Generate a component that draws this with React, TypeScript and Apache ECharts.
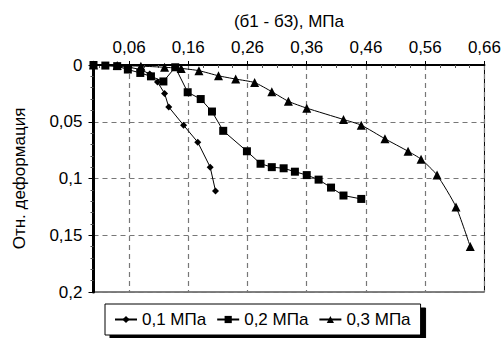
import React, { useEffect, useRef } from "react";
import * as echarts from "echarts";

const seriesNames = ["0,1 МПа", "0,2 МПа", "0,3 МПа"];

const xTicks = [0.06, 0.16, 0.26, 0.36, 0.46, 0.56, 0.66];
const xMinorTicks = [
  0.01, 0.035, 0.085, 0.11, 0.135, 0.185, 0.21, 0.235, 0.285, 0.31, 0.335,
  0.385, 0.41, 0.435, 0.485, 0.51, 0.535, 0.585, 0.61, 0.635,
];

const series01: number[][] = [
  [0, 0], [0.02, 0.0005], [0.04, 0.001], [0.06, 0.002], [0.08, 0.004],
  [0.095, 0.008], [0.108, 0.015], [0.12, 0.025], [0.127, 0.037],
  [0.152, 0.053], [0.176, 0.068], [0.197, 0.09], [0.206, 0.111],
];

const series02: number[][] = [
  [0, 0], [0.02, 0.0005], [0.04, 0.001], [0.058, 0.004], [0.079, 0.007],
  [0.097, 0.01], [0.118, 0.0145], [0.138, 0.002], [0.159, 0.024],
  [0.181, 0.03], [0.2, 0.041], [0.219, 0.058], [0.259, 0.076],
  [0.282, 0.087], [0.301, 0.09], [0.321, 0.091], [0.34, 0.094],
  [0.36, 0.097], [0.38, 0.101], [0.401, 0.108], [0.422, 0.115],
  [0.452, 0.118],
];

const series03: number[][] = [
  [0, 0], [0.04, 0.0005], [0.08, 0.001], [0.12, 0.002], [0.148, 0.003],
  [0.178, 0.005], [0.211, 0.0095], [0.24, 0.0124], [0.272, 0.0155],
  [0.301, 0.0235], [0.329, 0.032], [0.36, 0.038], [0.422, 0.048],
  [0.452, 0.053], [0.492, 0.065], [0.531, 0.076], [0.553, 0.083],
  [0.58, 0.097], [0.612, 0.125], [0.636, 0.16],
];

const fmt = (v: number) => String(+Number(v).toFixed(3)).replace(".", ",");
const FONT = "Liberation Sans, Arial, sans-serif";

export default function App() {
  const ref = useRef<HTMLDivElement>(null);
  useEffect(() => {
    if (!ref.current) return;
    const chart = echarts.init(ref.current, null, { renderer: "svg" });
    const lineStyle = { color: "#000", width: 1 };
    chart.setOption({
      animation: false,
      backgroundColor: "#fff",
      textStyle: { fontFamily: FONT, color: "#000" },
      grid: {
        left: 93.5,
        right: 16.7,
        top: 65,
        bottom: 46,
        show: true,
        borderColor: "#000",
        borderWidth: 1,
        backgroundColor: "transparent",
      },
      xAxis: [
        {
          type: "value",
          position: "top",
          min: 0,
          max: 0.66,
          name: "(б1 - б3), МПа",
          nameLocation: "middle",
          nameGap: 35,
          nameTextStyle: { fontSize: 17, color: "#000", fontFamily: FONT },
          axisLine: { show: true, lineStyle: { color: "#000", width: 2 } },
          axisTick: {
            show: true,
            customValues: xTicks,
            length: 4,
            lineStyle: { color: "#000" },
          },
          axisLabel: {
            customValues: xTicks,
            formatter: (v: number) => fmt(v),
            fontSize: 17,
            color: "#000",
            margin: 9,
            fontFamily: FONT,
          },
          splitLine: {
            show: true,
            lineStyle: { color: "#777", type: [5, 4], width: 1.2 },
          },
        },
        {
          type: "value",
          position: "top",
          min: 0,
          max: 0.66,
          axisLine: { show: false },
          axisTick: {
            show: true,
            inside: true,
            customValues: xMinorTicks,
            length: 3,
            lineStyle: { color: "#555" },
          },
          axisLabel: { show: false },
          splitLine: { show: false },
        },
      ],
      yAxis: {
        type: "value",
        inverse: true,
        min: 0,
        max: 0.2,
        interval: 0.05,
        name: "Отн. деформация",
        nameLocation: "middle",
        nameGap: 66,
        nameTextStyle: { fontSize: 17, color: "#000", fontFamily: FONT },
        axisLine: { show: true, lineStyle: { color: "#000", width: 3 } },
        axisTick: { show: true, length: 5, lineStyle: { color: "#000" } },
        minorTick: { show: true, splitNumber: 5, length: 3, lineStyle: { color: "#555" } },
        axisLabel: {
          formatter: (v: number) => fmt(v),
          fontSize: 17,
          color: "#000",
          margin: 11,
          fontFamily: FONT,
        },
        splitLine: {
          show: true,
          lineStyle: { color: "#777", type: [5, 4], width: 1.2 },
        },
      },
      legend: {
        left: 105,
        top: 304,
        padding: [7, 10, 7, 9],
        itemGap: 10,
        itemWidth: 22,
        itemHeight: 9,
        backgroundColor: "#fff",
        borderColor: "#000",
        borderWidth: 1,
        shadowColor: "#000",
        shadowBlur: 0,
        shadowOffsetX: 5,
        shadowOffsetY: 4,
        textStyle: { fontSize: 17, color: "#000", fontFamily: FONT },
        data: seriesNames,
      },
      series: [
        {
          name: seriesNames[0],
          type: "line",
          data: series01,
          symbol: "diamond",
          symbolSize: 7,
          lineStyle,
          itemStyle: { color: "#000" },
        },
        {
          name: seriesNames[1],
          type: "line",
          data: series02,
          symbol: "rect",
          symbolSize: 8,
          lineStyle,
          itemStyle: { color: "#000" },
        },
        {
          name: seriesNames[2],
          type: "line",
          data: series03,
          symbol: "triangle",
          symbolSize: 9,
          smooth: 0.2,
          lineStyle,
          itemStyle: { color: "#000" },
        },
      ],
    });
    return () => chart.dispose();
  }, []);
  return (
    <div
      ref={ref}
      style={{ position: "fixed", left: 0, top: 0, width: 504, height: 338 }}
    />
  );
}
